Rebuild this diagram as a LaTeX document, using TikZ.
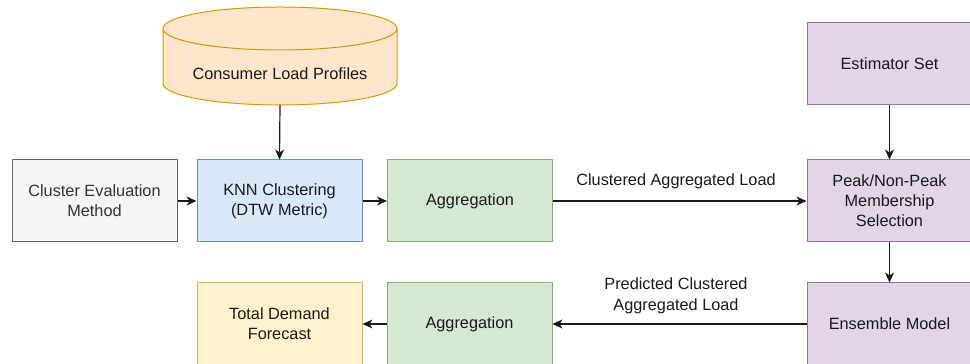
\documentclass[tikz,border=0pt]{standalone}
\usepackage{fontspec}
\setmainfont{Liberation Sans}
\usetikzlibrary{arrows.meta}

\definecolor{orfill}{HTML}{FFE6CC}\definecolor{ordraw}{HTML}{D79B00}
\definecolor{gyfill}{HTML}{F5F5F5}\definecolor{gydraw}{HTML}{666666}\definecolor{gytext}{HTML}{333333}
\definecolor{blfill}{HTML}{DAE8FC}\definecolor{bldraw}{HTML}{6C8EBF}
\definecolor{grfill}{HTML}{D5E8D4}\definecolor{grdraw}{HTML}{82B366}
\definecolor{pufill}{HTML}{E1D5E7}\definecolor{pudraw}{HTML}{9673A6}
\definecolor{yefill}{HTML}{FFF2CC}\definecolor{yedraw}{HTML}{D6B656}
\definecolor{ink}{HTML}{1A1A1A}

\tikzset{
  box/.style={draw, line width=1pt, minimum width=165pt, minimum height=82pt,
    inner sep=2pt, align=center, font=\fontsize{16.3}{20}\selectfont, text=ink},
  graybox/.style={box, fill=gyfill, draw=gydraw, text=gytext},
  bluebox/.style={box, fill=blfill, draw=bldraw},
  greenbox/.style={box, fill=grfill, draw=grdraw},
  purplebox/.style={box, fill=pufill, draw=pudraw},
  yellowbox/.style={box, fill=yefill, draw=yedraw},
  flow/.style={draw=ink, line width=1.2pt, -{Stealth[length=10pt,width=9pt,inset=3pt]}},
  lbl/.style={align=center, font=\fontsize{16.3}{21}\selectfont, text=ink, inner sep=0pt}
}

\begin{document}
\begin{tikzpicture}[x=1pt,y=1pt]
\useasboundingbox (0,0) rectangle (970,364);

% database cylinder
\path[fill=orfill, draw=ordraw, line width=1pt]
  (163,335.5) -- (163,280.5) arc (180:360:117 and 21.5) -- (397,335.5)
  arc (0:180:117 and 21.5) -- cycle;
\draw[ordraw, line width=1pt] (163,335.5) arc (180:360:117 and 21.5);
\node[lbl] (profiles) at (280,290) {Consumer Load Profiles};
\coordinate (cylbot) at (280,259);

% first row
\node[graybox]   (eval) at (94.5,163)  {Cluster Evaluation\\Method};
\node[bluebox]   (knn)  at (279.5,163) {KNN Clustering\\(DTW Metric)};
\node[greenbox]  (agg1) at (470,163)   {Aggregation};
\node[purplebox] (peak) at (889.5,163) {Peak/Non-Peak\\Membership\\Selection};

% right column
\node[purplebox] (est)  at (889.5,300) {Estimator Set};
\node[purplebox] (ens)  at (889.5,40)  {Ensemble Model};

% bottom row
\node[yellowbox] (total) at (279.5,40) {Total Demand\\Forecast};
\node[greenbox]  (agg2)  at (469.5,40) {Aggregation};

% connectors
\draw[flow] (cylbot) -- (knn.north);
\draw[flow] (eval) -- (knn);
\draw[flow] (knn) -- (agg1);
\draw[flow] (agg1) -- (peak);
\draw[flow] (est) -- (peak);
\draw[flow] (peak) -- (ens);
\draw[flow] (ens) -- (agg2);
\draw[flow] (agg2) -- (total);

% edge labels
\node[lbl] (l1) at (676,183) {Clustered Aggregated Load};
\node[lbl] (l2) at (676,68.5) {Predicted Clustered\\Aggregated Load};
\end{tikzpicture}
\end{document}
